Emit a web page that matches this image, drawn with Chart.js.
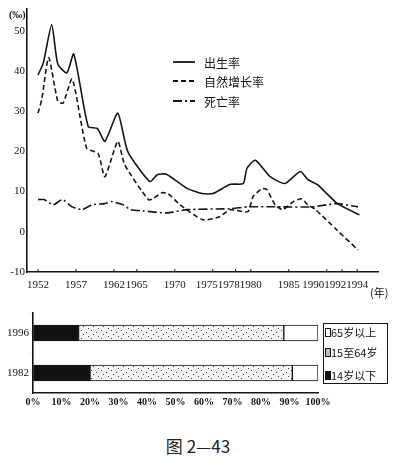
<!DOCTYPE html>
<html>
<head>
<meta charset="utf-8">
<script src="https://cdn.jsdelivr.net/npm/chart.js@4/dist/chart.umd.min.js"></script>
<style>
  body { margin: 0; background: #fff; }
  #wrap { position: relative; width: 396px; height: 456px; overflow: hidden; }
  #rateBox { position: absolute; left: 0; top: 0; width: 396px; height: 300px; }
  #ageBox { position: absolute; left: 0; top: 305px; width: 396px; height: 110px; }
  #caption { position: absolute; left: 0; top: 433px; width: 396px; text-align: center;
             font: 17px "Noto Sans CJK SC"; color: #222; }
</style>
</head>
<body>
<div id="wrap">
  <div id="rateBox"><canvas id="rateChart"></canvas></div>
  <div id="ageBox"><canvas id="ageChart"></canvas></div>
  <div id="caption">图 2—43</div>
</div>
<script>
// birth / natural growth / death rate (‰)
const birthYears = [1952, 1952.7, 1953.8, 1954.6, 1955.8, 1956.7, 1958.6, 1959.8, 1960.8, 1962.5, 1963.8, 1966.7, 1967.7, 1968.9, 1971.6, 1973.6, 1975, 1977.3, 1979, 1979.5, 1980.6, 1982.5, 1984.5, 1986.5, 1987.5, 1988.8, 1990, 1991.4, 1994.3];
const birthRate  = [39, 42, 51.5, 41.7, 39.5, 44.2, 26.2, 25.7, 22.5, 29.5, 20, 12.5, 14.2, 14.3, 10.8, 9.5, 9.5, 11.8, 12, 15.8, 17.8, 13.8, 12, 15, 13, 11.7, 9.5, 7, 4.2];

const growthYears = [1952, 1952.5, 1953.4, 1954.6, 1955.3, 1956.5, 1958.4, 1959.9, 1960.8, 1962.5, 1963.4, 1966.5, 1967.1, 1968.3, 1969.1, 1970.7, 1973.7, 1975.9, 1977.3, 1979.6, 1980.3, 1981.5, 1982.1, 1983.2, 1984.2, 1985.6, 1986.7, 1987.5, 1988.4, 1991.3, 1994.1];
const growthRate  = [29.5, 33, 43.3, 32.5, 32, 38, 20.8, 19.5, 13.7, 22.5, 16.7, 8, 8.2, 9.7, 9.5, 6.7, 3, 3.75, 5.5, 5, 8.75, 10.75, 10.5, 6.7, 5.5, 7.5, 8.2, 6.7, 5.7, 0.5, -4.5];

const deathYears = [1952, 1952.8, 1954, 1955.2, 1956.5, 1957.8, 1959.1, 1960.8, 1961.7, 1963.2, 1964.2, 1965.8, 1968.9, 1971.6, 1977.3, 1979.6, 1984.2, 1988.1, 1991.3, 1994.1];
const deathRate  = [8, 8, 6.7, 8, 6.2, 5.5, 6.7, 7, 7.5, 6.7, 5.5, 5.2, 4.7, 5.5, 5.75, 6.2, 6.2, 6.2, 7, 6.2];

const xTickYears = [1952, 1957, 1962, 1965, 1970, 1975, 1978, 1980, 1985, 1990, 1992, 1994];
const yTicks = [-10, 0, 10, 20, 30, 40, 50];
const rateNames = ['出生率', '自然增长率', '死亡率'];

// age structure (%)
const ageYears = ['1996', '1982'];
const ageGroups = ['14岁以下', '15至64岁', '65岁以上'];
const under14 = [16, 20];
const age15to64 = [72, 71];
const over65 = [12, 9];
const pctTicks = [0, 10, 20, 30, 40, 50, 60, 70, 80, 90, 100];

const ink = '#151515';
const serif = '"Liberation Serif", "DejaVu Serif", serif';
const cjk = '"Noto Sans CJK SC", sans-serif';

function pts(xs, ys) {
    return xs.map((x, i) => ({ x: x, y: ys[i] }));
}

const dashes = [[], [5, 3], [9, 3, 2, 3]];

// legend + x labels for the rate chart
const rateExtras = {
    id: 'rateExtras',
    afterDraw(chart) {
        const ctx = chart.ctx;
        const xs = chart.scales.x;
        const bottom = chart.chartArea.bottom;
        ctx.save();
        ctx.strokeStyle = ink;
        ctx.fillStyle = ink;
        ctx.lineWidth = 1;
        // small tick marks
        xTickYears.forEach(y => {
            const px = xs.getPixelForValue(y);
            ctx.beginPath();
            ctx.moveTo(px, bottom);
            ctx.lineTo(px, bottom - 3);
            ctx.stroke();
        });
        // labels, pushed left when they collide (like the print)
        ctx.font = '11px ' + serif;
        ctx.textBaseline = 'middle';
        ctx.textAlign = 'left';
        let limit = Infinity;
        for (let i = xTickYears.length - 1; i >= 0; i--) {
            const txt = String(xTickYears[i]);
            const w = ctx.measureText(txt).width;
            let left = xs.getPixelForValue(xTickYears[i]) - w / 2;
            if (left + w > limit) left = limit - w;
            ctx.fillText(txt, left, bottom + 13);
            limit = left;
        }
        ctx.font = '11px ' + cjk;
        ctx.fillText('(年)', 370, bottom + 21);
        ctx.font = 'bold 10px ' + serif;
        ctx.fillText('(‰)', 9, 15);

        // legend
        const rows = [62, 81, 101];
        chart.data.datasets.forEach((ds, i) => {
            ctx.lineWidth = 1.8;
            ctx.setLineDash(ds.borderDash);
            ctx.beginPath();
            ctx.moveTo(173, rows[i]);
            ctx.lineTo(195, rows[i]);
            ctx.stroke();
            ctx.setLineDash([]);
            ctx.font = '12px ' + cjk;
            ctx.fillText(ds.label, 204, rows[i] + 1);
        });
        ctx.restore();
    }
};

new Chart(document.getElementById('rateChart'), {
    type: 'line',
    data: {
        datasets: [
            { label: rateNames[0], data: pts(birthYears, birthRate), borderDash: dashes[0] },
            { label: rateNames[1], data: pts(growthYears, growthRate), borderDash: dashes[1] },
            { label: rateNames[2], data: pts(deathYears, deathRate), borderDash: dashes[2] }
        ]
    },
    options: {
        responsive: true,
        maintainAspectRatio: false,
        animation: false,
        layout: { padding: { top: 8, right: 18, left: 0, bottom: 0 } },
        elements: {
            line: { borderColor: ink, borderWidth: 1.6, tension: 0.2, fill: false },
            point: { radius: 0 }
        },
        plugins: { legend: { display: false }, tooltip: { enabled: false } },
        scales: {
            x: {
                type: 'linear',
                min: 1950.55,
                max: 1996.74,
                afterBuildTicks: s => { s.ticks = xTickYears.map(v => ({ value: v })); },
                afterFit: s => { s.height = 28; },
                ticks: { display: false },
                grid: { display: false },
                border: { color: ink, width: 1.6 }
            },
            y: {
                min: -10,
                max: 55.5,
                afterBuildTicks: s => { s.ticks = yTicks.map(v => ({ value: v })); },
                afterFit: s => { s.width = 27; },
                ticks: { color: ink, font: { family: serif, size: 11 }, padding: 2 },
                grid: { drawOnChartArea: false, drawTicks: false },
                border: { color: ink, width: 1.6 }
            }
        }
    },
    plugins: [rateExtras]
});

// dotted fill for the 15-64 segment
function dotPattern() {
    const c = document.createElement('canvas');
    c.width = 10; c.height = 8;
    const g = c.getContext('2d');
    g.fillStyle = '#f3f3f3';
    g.fillRect(0, 0, 10, 8);
    g.fillStyle = '#444';
    g.fillRect(1, 1, 1, 1);
    g.fillRect(6, 3, 1, 1);
    g.fillRect(3, 5, 1, 1);
    g.fillRect(8, 7, 1, 1);
    return g.createPattern(c, 'repeat');
}

const ageLegend = {
    id: 'ageLegend',
    afterDraw(chart) {
        const ctx = chart.ctx;
        ctx.save();
        ctx.strokeStyle = ink;
        ctx.lineWidth = 1;
        ctx.strokeRect(323.5, 18.5, 64, 60);
        const rows = [28, 48, 71];
        const order = [2, 1, 0];
        ctx.font = '11px ' + cjk;
        ctx.textBaseline = 'middle';
        order.forEach((d, i) => {
            const ds = chart.data.datasets[d];
            ctx.fillStyle = d === 1 ? '#bbb' : ds.backgroundColor;
            ctx.fillRect(325.5, rows[i] - 4.5, 5, 8);
            ctx.strokeRect(325.5, rows[i] - 4.5, 5, 8);
            ctx.fillStyle = ink;
            ctx.fillText(ds.label, 331, rows[i]);
        });
        ctx.restore();
    }
};

new Chart(document.getElementById('ageChart'), {
    type: 'bar',
    data: {
        labels: ageYears,
        datasets: [
            { label: ageGroups[0], data: under14, backgroundColor: '#111' },
            { label: ageGroups[1], data: age15to64, backgroundColor: dotPattern() },
            { label: ageGroups[2], data: over65, backgroundColor: '#fff' }
        ]
    },
    options: {
        indexAxis: 'y',
        responsive: true,
        maintainAspectRatio: false,
        animation: false,
        layout: { padding: { top: 8, right: 78, left: 0, bottom: 0 } },
        datasets: { bar: { barThickness: 16, borderColor: ink, borderWidth: 1, borderSkipped: false } },
        plugins: { legend: { display: false }, tooltip: { enabled: false } },
        scales: {
            x: {
                stacked: true,
                min: 0,
                max: 100,
                afterBuildTicks: s => { s.ticks = pctTicks.map(v => ({ value: v })); },
                afterFit: s => { s.height = 22; },
                ticks: { color: ink, font: { family: serif, size: 10, weight: 'bold' }, padding: 3,
                         maxRotation: 0, autoSkip: false, callback: v => v + '%' },
                grid: { drawOnChartArea: false, drawTicks: false },
                border: { color: ink, width: 1.6 }
            },
            y: {
                stacked: true,
                afterFit: s => { s.width = 33; },
                ticks: { color: ink, font: { family: serif, size: 11 }, padding: 1 },
                grid: { drawOnChartArea: false, tickLength: 3 },
                border: { color: ink, width: 1.6 }
            }
        }
    },
    plugins: [ageLegend]
});
</script>
</body>
</html>
